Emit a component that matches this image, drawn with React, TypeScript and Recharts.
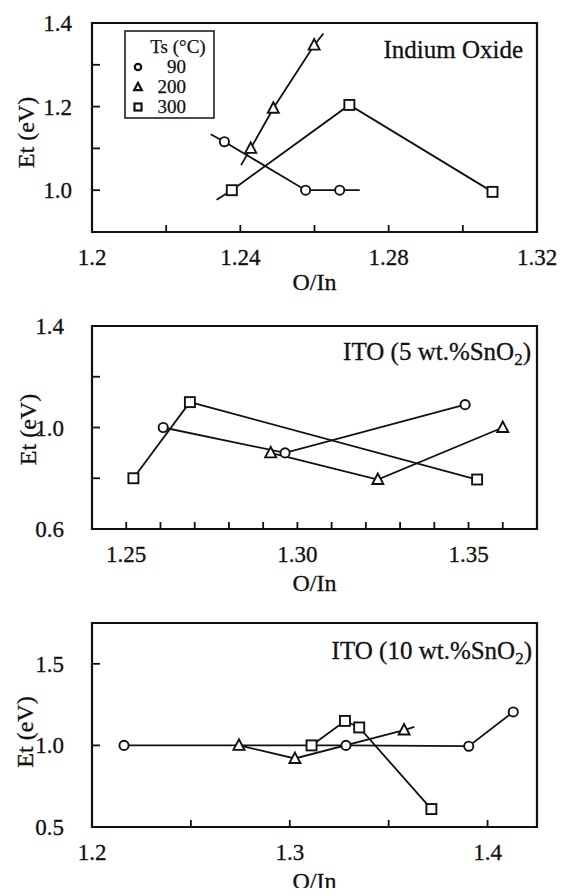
import React from 'react';
import { ComposedChart, Line, Scatter, XAxis, YAxis, ReferenceArea, Label } from 'recharts';

type Pt = { x: number; y: number };
type Kind = 'circle' | 'triangle' | 'square';

// ---------- Panel 1: Indium Oxide ----------
const in90Points: Pt[] = [{ x: 1.2357, y: 1.116 }, { x: 1.2576, y: 1.0 }, { x: 1.2668, y: 1.0 }];
const in90Lead: Pt[] = [{ x: 1.232, y: 1.134 }];
const in90Tail: Pt[] = [{ x: 1.2722, y: 1.0 }];
const in200Points: Pt[] = [{ x: 1.2428, y: 1.1 }, { x: 1.2489, y: 1.196 }, { x: 1.2599, y: 1.347 }];
const in200Lead: Pt[] = [{ x: 1.2402, y: 1.06 }];
const in200Tail: Pt[] = [{ x: 1.2624, y: 1.375 }];
const in300Points: Pt[] = [{ x: 1.2377, y: 1.0 }, { x: 1.2694, y: 1.204 }, { x: 1.308, y: 0.996 }];
const in300Lead: Pt[] = [{ x: 1.2336, y: 0.977 }];
const in300Tail: Pt[] = [];

const p1XTicks = [1.2, 1.22, 1.24, 1.26, 1.28, 1.3, 1.32];
const p1XLabels = ['1.2', '', '1.24', '', '1.28', '', '1.32'];
const p1YTicks = [1.0, 1.1, 1.2, 1.3, 1.4];
const p1YLabels = ['1.0', '', '1.2', '', '1.4'];

// ---------- Panel 2: ITO 5 wt.% SnO2 ----------
const ito5_90Points: Pt[] = [{ x: 1.2608, y: 1.0 }, { x: 1.2964, y: 0.9 }, { x: 1.349, y: 1.09 }];
const ito5_200Points: Pt[] = [{ x: 1.2922, y: 0.9 }, { x: 1.3235, y: 0.795 }, { x: 1.36, y: 1.0 }];
const ito5_300Points: Pt[] = [{ x: 1.2521, y: 0.8 }, { x: 1.2686, y: 1.1 }, { x: 1.3525, y: 0.795 }];

const p2XTicks = [1.25, 1.26, 1.27, 1.28, 1.29, 1.3, 1.31, 1.32, 1.33, 1.34, 1.35, 1.36];
const p2XLabels = ['1.25', '', '', '', '', '1.30', '', '', '', '', '1.35', ''];
const p2YTicks = [0.6, 0.8, 1.0, 1.2, 1.4];
const p2YLabels = ['0.6', '', '1.0', '', '1.4'];

// ---------- Panel 3: ITO 10 wt.% SnO2 ----------
const ito10_90Points: Pt[] = [{ x: 1.2162, y: 1.0 }, { x: 1.3284, y: 1.0 }, { x: 1.3905, y: 0.995 }, { x: 1.413, y: 1.205 }];
const ito10_200Points: Pt[] = [{ x: 1.2743, y: 1.0 }, { x: 1.3026, y: 0.92 }, { x: 1.3578, y: 1.094 }];
const ito10_200Tail: Pt[] = [{ x: 1.363, y: 1.113 }];
const ito10_300Points: Pt[] = [{ x: 1.311, y: 1.0 }, { x: 1.3279, y: 1.15 }, { x: 1.3351, y: 1.11 }, { x: 1.3716, y: 0.61 }];

const p3XTicks = [1.2, 1.25, 1.3, 1.35, 1.4];
const p3XLabels = ['1.2', '', '1.3', '', '1.4'];
const p3YTicks = [0.5, 1.0, 1.5];
const p3YLabels = ['0.5', '1.0', '1.5'];

const legendTitle = 'Ts (°C)';
const legendLabels = ['90', '200', '300'];
const legendKinds: Kind[] = ['circle', 'triangle', 'square'];

const FONT = "'Liberation Serif', 'Times New Roman', Times, serif";
const INK = '#111';

const drawMarker = (kind: Kind, cx: number, cy: number, s: number, sw: number, key?: string) => {
  if (kind === 'circle')
    return <circle key={key} cx={cx} cy={cy} r={s * 0.46} fill="#fff" stroke={INK} strokeWidth={sw} />;
  if (kind === 'square')
    return <rect key={key} x={cx - s / 2} y={cy - s / 2} width={s} height={s} fill="#fff" stroke={INK} strokeWidth={sw} />;
  const h = s * 1.0;
  return (
    <polygon
      key={key}
      points={`${cx},${cy - h * 0.6} ${cx - s * 0.55},${cy + h * 0.45} ${cx + s * 0.55},${cy + h * 0.45}`}
      fill="#fff"
      stroke={INK}
      strokeWidth={sw}
    />
  );
};

const shapeOf = (kind: Kind) => (p: any) => {
  if (p == null || p.cx == null) return <g />;
  return drawMarker(kind, p.cx, p.cy, 10, 1.9);
};

const pickLabel = (ticks: number[], labels: string[], v: number) => {
  const i = ticks.findIndex((t) => Math.abs(t - v) < 1e-9);
  return i >= 0 ? labels[i] : '';
};

const makeXTick = (ticks: number[], labels: string[], dy: number) => (props: any) => {
  const { x, y, payload } = props;
  const lab = pickLabel(ticks, labels, payload.value);
  return (
    <g>
      <line x1={x} y1={y} x2={x} y2={y - 7} stroke={INK} strokeWidth={1.8} />
      {lab ? (
        <text x={x} y={y + dy} textAnchor="middle" fontSize={23} fontFamily={FONT} fill={INK} stroke={INK} strokeWidth={0.3}>
          {lab}
        </text>
      ) : null}
    </g>
  );
};

const makeYTick = (ticks: number[], labels: string[], gap: number) => (props: any) => {
  const { x, y, payload } = props;
  const lab = pickLabel(ticks, labels, payload.value);
  return (
    <g>
      <line x1={x} y1={y} x2={x + 8} y2={y} stroke={INK} strokeWidth={1.8} />
      {lab ? (
        <text x={x - gap} y={y + 8} textAnchor="end" fontSize={23} fontFamily={FONT} fill={INK} stroke={INK} strokeWidth={0.3}>
          {lab}
        </text>
      ) : null}
    </g>
  );
};

type Series = { kind: Kind; points: Pt[]; lead?: Pt[]; tail?: Pt[] };

type PanelProps = {
  top: number;
  height: number;
  marginTop: number;
  xAxisHeight: number;
  xDomain: [number, number];
  yDomain: [number, number];
  xTicks: number[];
  xLabels: string[];
  yTicks: number[];
  yLabels: string[];
  yGap: number;
  xLabelDy: number;
  titleDy: number;
  yTitleX: number;
  yTitleShift: number;
  series: Series[];
  annotation: (vb: any) => React.ReactNode;
};

const Panel = (p: PanelProps) => (
  <div style={{ position: 'absolute', left: 0, top: p.top }}>
    <ComposedChart width={569} height={p.height} margin={{ top: p.marginTop, right: 32, bottom: 0, left: 0 }}>
      <XAxis
        dataKey="x"
        type="number"
        domain={p.xDomain}
        ticks={p.xTicks}
        interval={0}
        allowDataOverflow
        axisLine={false}
        tickLine={false}
        tickSize={0}
        tickMargin={0}
        height={p.xAxisHeight}
        tick={makeXTick(p.xTicks, p.xLabels, p.xLabelDy)}
      >
        <Label
          content={(lp: any) => {
            const vb = lp.viewBox || {};
            return (
              <text
                x={vb.x + vb.width / 2}
                y={vb.y + p.titleDy}
                textAnchor="middle"
                fontSize={24}
                fontFamily={FONT}
                fill={INK}
                stroke={INK}
                strokeWidth={0.3}
              >
                O/In
              </text>
            );
          }}
        />
      </XAxis>
      <YAxis
        dataKey="y"
        type="number"
        domain={p.yDomain}
        ticks={p.yTicks}
        interval={0}
        allowDataOverflow
        axisLine={false}
        tickLine={false}
        tickSize={0}
        tickMargin={0}
        width={92}
        tick={makeYTick(p.yTicks, p.yLabels, p.yGap)}
      >
        <Label
          content={(lp: any) => {
            const vb = lp.viewBox || {};
            const cx = p.yTitleX;
            const cy = vb.y + vb.height / 2 + p.yTitleShift;
            return (
              <text
                x={cx}
                y={cy}
                transform={`rotate(-90 ${cx} ${cy})`}
                textAnchor="middle"
                dominantBaseline="central"
                fontSize={24}
                fontFamily={FONT}
                fill={INK}
                stroke={INK}
                strokeWidth={0.3}
              >
                Et (eV)
              </text>
            );
          }}
        />
      </YAxis>
      {p.series.map((s, i) => (
        <Line
          key={'l' + i}
          data={[...(s.lead || []), ...s.points, ...(s.tail || [])]}
          dataKey="y"
          type="linear"
          stroke={INK}
          strokeWidth={1.8}
          dot={false}
          activeDot={false}
          isAnimationActive={false}
        />
      ))}
      {p.series.map((s, i) => (
        <Scatter key={'s' + i} data={s.points} dataKey="y" shape={shapeOf(s.kind)} isAnimationActive={false} />
      ))}
      <ReferenceArea
        x1={p.xDomain[0]}
        x2={p.xDomain[1]}
        y1={p.yDomain[0]}
        y2={p.yDomain[1]}
        fill="none"
        stroke={INK}
        strokeWidth={2.2}
        ifOverflow="visible"
      >
        <Label content={(lp: any) => <g>{p.annotation(lp.viewBox || {})}</g>} />
      </ReferenceArea>
    </ComposedChart>
  </div>
);

const Legend1 = ({ vb }: { vb: any }) => {
  const bx = vb.x + 33;
  const by = vb.y + 8;
  return (
    <g>
      <rect x={bx} y={by} width={89} height={87} fill="#fff" stroke={INK} strokeWidth={1.5} />
      <text x={bx + 53} y={by + 22} textAnchor="middle" fontSize={19} fontFamily={FONT} fill={INK} stroke={INK} strokeWidth={0.25}>
        {legendTitle}
      </text>
      {legendLabels.map((lab, i) => (
        <g key={lab}>
          {drawMarker(legendKinds[i], bx + 13, by + 36 + i * 20, 7, 2.2)}
          <text x={bx + 61} y={by + 42 + i * 20} textAnchor="end" fontSize={19} fontFamily={FONT} fill={INK} stroke={INK} strokeWidth={0.25}>
            {lab}
          </text>
        </g>
      ))}
    </g>
  );
};

const annStyle = { fontSize: 25, fontFamily: FONT, fill: INK, stroke: INK, strokeWidth: 0.3 };

export default function App() {
  return (
    <div style={{ position: 'relative', width: 569, height: 896, margin: -8, background: '#fff', overflow: 'hidden' }}>
      <Panel
        top={0}
        height={300}
        marginTop={23}
        xAxisHeight={68}
        xDomain={[1.2, 1.32]}
        yDomain={[0.9, 1.4]}
        xTicks={p1XTicks}
        xLabels={p1XLabels}
        yTicks={p1YTicks}
        yLabels={p1YLabels}
        yGap={20}
        xLabelDy={33}
        titleDy={58}
        yTitleX={26}
        yTitleShift={5}
        series={[
          { kind: 'circle', points: in90Points, lead: in90Lead, tail: in90Tail },
          { kind: 'triangle', points: in200Points, lead: in200Lead, tail: in200Tail },
          { kind: 'square', points: in300Points, lead: in300Lead, tail: in300Tail },
        ]}
        annotation={(vb) => (
          <g>
            <Legend1 vb={vb} />
            <text x={vb.x + vb.width - 14} y={vb.y + 35} textAnchor="end" {...annStyle}>
              Indium Oxide
            </text>
          </g>
        )}
      />
      <Panel
        top={290}
        height={306}
        marginTop={36}
        xAxisHeight={67}
        xDomain={[1.24, 1.37]}
        yDomain={[0.6, 1.4]}
        xTicks={p2XTicks}
        xLabels={p2XLabels}
        yTicks={p2YTicks}
        yLabels={p2YLabels}
        yGap={28}
        xLabelDy={33}
        titleDy={62}
        yTitleX={28}
        yTitleShift={2}
        series={[
          { kind: 'circle', points: ito5_90Points },
          { kind: 'triangle', points: ito5_200Points },
          { kind: 'square', points: ito5_300Points },
        ]}
        annotation={(vb) => (
          <text x={vb.x + vb.width - 6} y={vb.y + 34} textAnchor="end" {...annStyle}>
            ITO (5 wt.%SnO<tspan fontSize={17} dy={5}>2</tspan>
            <tspan dy={-5}>)</tspan>
          </text>
        )}
      />
      <Panel
        top={590}
        height={306}
        marginTop={33}
        xAxisHeight={69}
        xDomain={[1.2, 1.425]}
        yDomain={[0.5, 1.75]}
        xTicks={p3XTicks}
        xLabels={p3XLabels}
        yTicks={p3YTicks}
        yLabels={p3YLabels}
        yGap={28}
        xLabelDy={33}
        titleDy={62}
        yTitleX={25}
        yTitleShift={7}
        series={[
          { kind: 'circle', points: ito10_90Points },
          { kind: 'triangle', points: ito10_200Points, tail: ito10_200Tail },
          { kind: 'square', points: ito10_300Points },
        ]}
        annotation={(vb) => (
          <text x={vb.x + vb.width - 5} y={vb.y + 36} textAnchor="end" {...annStyle}>
            ITO (10 wt.%SnO<tspan fontSize={17} dy={5}>2</tspan>
            <tspan dy={-5}>)</tspan>
          </text>
        )}
      />
    </div>
  );
}
